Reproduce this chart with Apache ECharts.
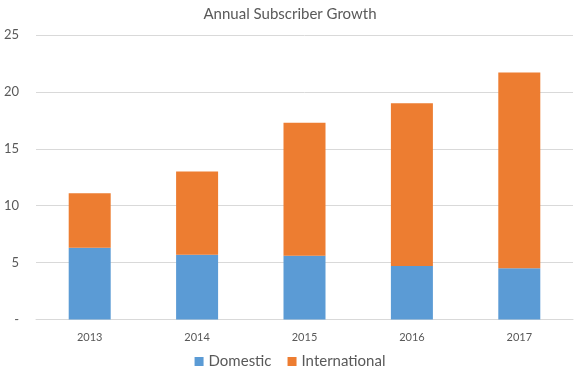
<!DOCTYPE html>
<html><head><meta charset="utf-8">
<script src="https://cdn.jsdelivr.net/npm/echarts@6/dist/echarts.min.js"></script>
<style>html,body{margin:0;padding:0;background:#fff}#c{width:580px;height:374px}</style>
</head><body><div id="c"></div>
<script>
var categories = ['2013','2014','2015','2016','2017'];
var domestic = [6.3, 5.7, 5.6, 4.7, 4.5];
var international = [4.8, 7.3, 11.7, 14.3, 17.2];
var yTicks = [0, 5, 10, 15, 20, 25];

var chart = echarts.init(document.getElementById('c'));
var font = 'Lato, "Open Sans", sans-serif';
chart.setOption({
  animation: false,
  title: {text: 'Annual Subscriber Growth', left: 'center', top: 2,
    textStyle: {fontFamily: font, fontSize: 15, fontWeight: 'normal', color: '#595959'}},
  legend: {bottom: 0, left: 'center', itemWidth: 9, itemHeight: 9, itemGap: 16,
    icon: 'rect',
    textStyle: {fontFamily: font, fontSize: 15, color: '#595959'},
    data: ['Domestic','International']},
  grid: {left: 36, right: 7, top: 35, bottom: 54.5},
  xAxis: {type: 'category', data: categories,
    axisLine: {show: true, lineStyle: {color: '#D9D9D9'}},
    axisTick: {show: false},
    axisLabel: {fontFamily: font, fontSize: 11, color: '#595959', margin: 12}},
  yAxis: {type: 'value', min: yTicks[0], max: yTicks[yTicks.length-1], interval: 5,
    axisLine: {show: false}, axisTick: {show: false},
    splitLine: {lineStyle: {color: '#D9D9D9'}},
    axisLabel: {fontFamily: font, fontSize: 13, color: '#595959', margin: 17,
      formatter: function(v){ return v === 0 ? '-' : String(v); }}},
  series: [
    {name: 'Domestic', type: 'bar', stack: 's', data: domestic, barWidth: 42,
      itemStyle: {color: '#5B9BD5'}},
    {name: 'International', type: 'bar', stack: 's', data: international, barWidth: 42,
      itemStyle: {color: '#ED7D31'}}
  ]
});
</script></body></html>
